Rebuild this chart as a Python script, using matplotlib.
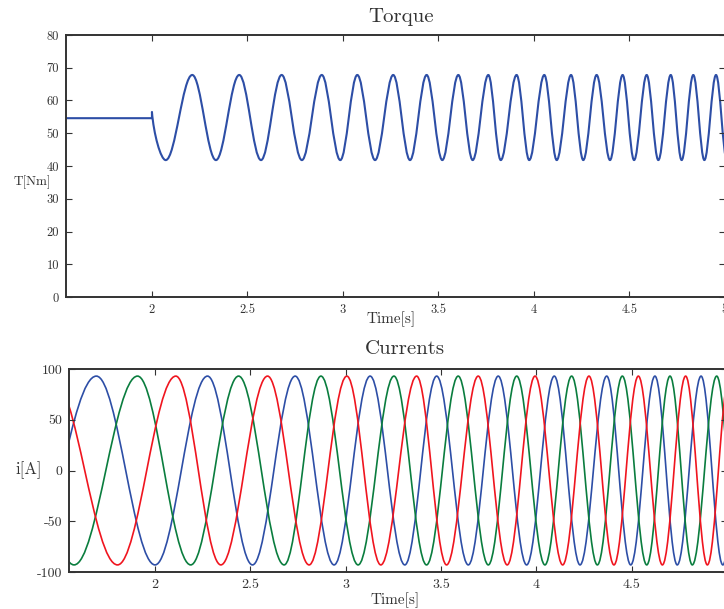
import matplotlib
matplotlib.use("Agg")
import matplotlib.pyplot as plt
from matplotlib.path import Path
from matplotlib.patches import PathPatch

plt.rcParams["font.family"] = "serif"
plt.rcParams["font.serif"] = ["cmr10", "DejaVu Serif"]
plt.rcParams["axes.unicode_minus"] = False

# --- data ---
t_limits = [1.55, 5.0]
x_ticks = [2.0, 2.5, 3.0, 3.5, 4.0, 4.5, 5.0]
x_tick_labels = ["2", "2.5", "3", "3.5", "4", "4.5", "5"]

torque_ticks = [0, 10, 20, 30, 40, 50, 60, 70, 80]
current_ticks = [-100, -50, 0, 50, 100]

# torque: steady value before the step at t=2, small spike, then oscillation
torque_steady = 54.6
torque_step_t = 2.0
torque_spike = 56.5
torque_high = 67.8
torque_low = 41.8
torque_peak_t = [2.211, 2.457, 2.679, 2.889, 3.075, 3.263, 3.438, 3.604,
                 3.761, 3.909, 4.054, 4.194, 4.328, 4.464, 4.590, 4.716,
                 4.834, 4.953]
torque_trough_t = [2.072, 2.335, 2.571, 2.785, 2.986, 3.168, 3.351, 3.520,
                   3.679, 3.826, 3.975, 4.119, 4.258, 4.398, 4.524, 4.651,
                   4.773, 4.892, 5.010]

# three phase currents: times of the maxima / minima
current_amp = 93.0
ia_peak_t = [1.692, 2.275, 2.735, 3.128, 3.477, 3.800, 4.094, 4.369, 4.622,
             4.864, 5.095]
ia_trough_t = [1.332, 2.000, 2.511, 2.939, 3.310, 3.643, 3.949, 4.229, 4.495,
               4.739, 4.978]
ib_peak_t = [1.243, 1.908, 2.438, 2.870, 3.253, 3.590, 3.897, 4.185, 4.451,
             4.701, 4.946]
ib_trough_t = [1.575, 2.187, 2.677, 3.065, 3.424, 3.748, 4.045, 4.320, 4.579,
               4.818, 5.063]
ic_peak_t = [1.459, 2.109, 2.590, 3.006, 3.372, 3.695, 3.993, 4.276, 4.535,
             4.783, 5.013]
ic_trough_t = [1.803, 2.345, 2.808, 3.184, 3.529, 3.847, 4.138, 4.407, 4.661,
               4.897]

blue = "#2d4ea6"
green = "#0a7d3e"
red = "#f0151f"
ink = "#333333"

C = 0.3634  # bezier handle giving a half-cosine between two extrema


def extrema(peaks, troughs, hi, lo):
    pts = [(t, hi) for t in peaks] + [(t, lo) for t in troughs]
    return sorted(pts)


def add_wave(verts, codes, pts):
    for (t0, y0), (t1, y1) in zip(pts[:-1], pts[1:]):
        dt = t1 - t0
        verts += [(t0 + C * dt, y0), (t1 - C * dt, y1), (t1, y1)]
        codes += [Path.CURVE4] * 3


def style_axes(ax, size):
    for sp in ax.spines.values():
        sp.set_color(ink)
        sp.set_linewidth(1.4)
    ax.tick_params(direction="in", top=True, right=True, length=4,
                   width=0.8, color=ink, labelcolor=ink, labelsize=size,
                   pad=5)
    ax.set_xlim(t_limits)
    ax.set_xticks(x_ticks, labels=x_tick_labels)


W, H = 724, 609
fig = plt.figure(figsize=(W / 100, H / 100), dpi=100)


def px_axes(left, top, right, bottom):
    return fig.add_axes([left / W, 1 - bottom / H, (right - left) / W,
                         (bottom - top) / H])


# ---- torque ----
ax1 = px_axes(66, 35, 725, 297)
style_axes(ax1, 9)
ax1.set_ylim(0, 80)
ax1.set_yticks(torque_ticks)

tp = extrema(torque_peak_t, torque_trough_t, torque_high, torque_low)
verts = [(t_limits[0], torque_steady), (torque_step_t, torque_steady),
         (torque_step_t, torque_spike)]
codes = [Path.MOVETO, Path.LINETO, Path.LINETO]
# first drop from the spike into the first trough
t0, y0 = torque_step_t, torque_spike
t1, y1 = tp[0]
dt = t1 - t0
verts += [(t0 + 0.12 * dt, y0 - 0.45 * (y0 - y1)), (t1 - C * dt, y1), (t1, y1)]
codes += [Path.CURVE4] * 3
add_wave(verts, codes, tp)
ax1.add_patch(PathPatch(Path(verts, codes), fill=False, edgecolor=blue,
                        lw=1.5, joinstyle="round", capstyle="round"))

# ---- currents ----
ax2 = px_axes(69.3, 369, 727, 572)
style_axes(ax2, 10)
ax2.set_ylim(-100, 100)
ax2.set_yticks(current_ticks)

for peaks, troughs, col in [(ia_peak_t, ia_trough_t, blue),
                            (ib_peak_t, ib_trough_t, green),
                            (ic_peak_t, ic_trough_t, red)]:
    pts = extrema(peaks, troughs, current_amp, -current_amp)
    v = [pts[0]]
    c = [Path.MOVETO]
    add_wave(v, c, pts)
    ax2.add_patch(PathPatch(Path(v, c), fill=False, edgecolor=col, lw=1.2,
                            joinstyle="round"))


def px_text(x, y, s, size):
    fig.text(x / W, 1 - y / H, s, ha="center", va="center", fontsize=size,
             color=ink)


px_text(401, 17, "Torque", 15)
px_text(391, 319, "Time[s]", 11)
px_text(32, 182, "T[Nm]", 9.5)
px_text(405, 349, "Currents", 15)
px_text(395, 600, "Time[s]", 11)
px_text(29, 470, "i[A]", 12)

fig.savefig("out.png", dpi=100)
